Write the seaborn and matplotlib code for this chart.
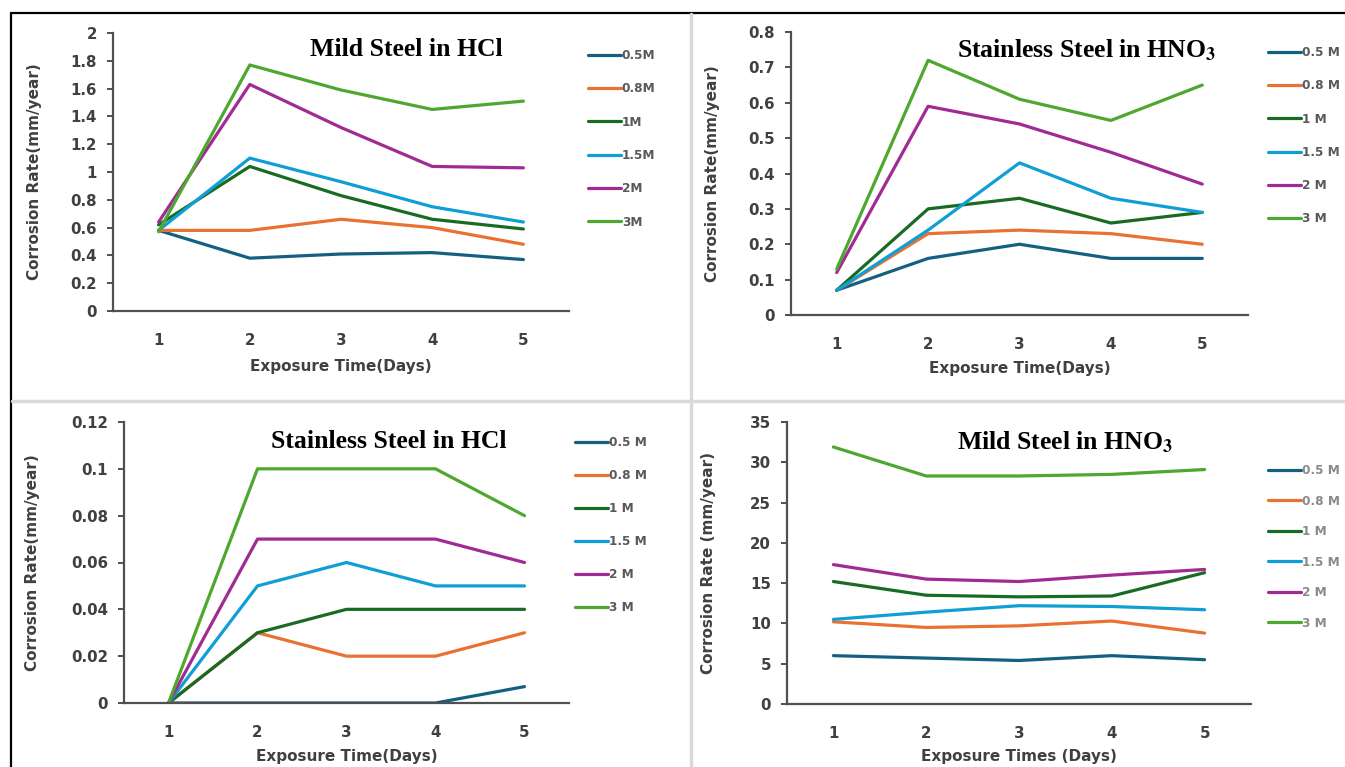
import pandas as pd
import matplotlib
matplotlib.use("Agg")
import matplotlib.pyplot as plt
import seaborn as sns
from matplotlib.lines import Line2D
from matplotlib.ticker import FuncFormatter, MultipleLocator

# === Data ===
days = [1, 2, 3, 4, 5]
conc_labels = ["0.5 M", "0.8 M", "1 M", "1.5 M", "2 M", "3 M"]
conc_labels_tl = ["0.5M", "0.8M", "1M", "1.5M", "2M", "3M"]
colors = ["#156082", "#E97132", "#196B24", "#0F9ED5", "#A02B93", "#4EA72E"]

# rows: 0.5 M, 0.8 M, 1 M, 1.5 M, 2 M, 3 M ; columns: day 1..5
mild_hcl = [
    [0.58, 0.38, 0.41, 0.42, 0.37],
    [0.58, 0.58, 0.66, 0.60, 0.48],
    [0.62, 1.04, 0.83, 0.66, 0.59],
    [0.58, 1.10, 0.93, 0.75, 0.64],
    [0.64, 1.63, 1.32, 1.04, 1.03],
    [0.57, 1.77, 1.59, 1.45, 1.51],
]
stainless_hno3 = [
    [0.07, 0.16, 0.20, 0.16, 0.16],
    [0.07, 0.23, 0.24, 0.23, 0.20],
    [0.07, 0.30, 0.33, 0.26, 0.29],
    [0.07, 0.24, 0.43, 0.33, 0.29],
    [0.12, 0.59, 0.54, 0.46, 0.37],
    [0.13, 0.72, 0.61, 0.55, 0.65],
]
stainless_hcl = [
    [0.0, 0.0, 0.0, 0.0, 0.007],
    [0.0, 0.03, 0.02, 0.02, 0.03],
    [0.0, 0.03, 0.04, 0.04, 0.04],
    [0.0, 0.05, 0.06, 0.05, 0.05],
    [0.0, 0.07, 0.07, 0.07, 0.06],
    [0.0, 0.10, 0.10, 0.10, 0.08],
]
mild_hno3 = [
    [6.0, 5.7, 5.4, 6.0, 5.5],
    [10.2, 9.5, 9.7, 10.3, 8.8],
    [15.2, 13.5, 13.3, 13.4, 16.3],
    [10.5, 11.4, 12.2, 12.1, 11.7],
    [17.3, 15.5, 15.2, 16.0, 16.7],
    [31.9, 28.3, 28.3, 28.5, 29.1],
]

# === Figure setup ===
W, H = 1345, 767
sns.set_theme(style="white")
plt.rcParams['font.family'] = ['DejaVu Sans']
plt.rcParams['mathtext.fontset'] = 'stix'

fig = plt.figure(figsize=(W / 100, H / 100), dpi=100)
fig.patch.set_facecolor("white")

AX_COL = "#505050"
TXT_COL = "#404040"


def px_box(x0, y0, x1, y1):
    return [x0 / W, 1 - y1 / H, (x1 - x0) / W, (y1 - y0) / H]


def draw_panel(box, values, labels, title, title_xy, ymax, ystep, ylabel, xlabel,
               ylabel_x, xlabel_y, legend_xy, legend_space, legend_col):
    x0, y0, x1, y1 = box
    ax = fig.add_axes(px_box(*box))
    rows = [(lab, d, v) for lab, row in zip(labels, values) for d, v in zip(days, row)]
    df = pd.DataFrame(rows, columns=["conc", "day", "rate"])
    sns.lineplot(data=df, x="day", y="rate", hue="conc", hue_order=labels,
                 palette=dict(zip(labels, colors)), linewidth=2.3,
                 estimator=None, legend=False, ax=ax)

    ax.set_xlim(0.5, 5.5)
    ax.set_ylim(0, ymax)
    ax.set_xticks(days)
    ax.yaxis.set_major_locator(MultipleLocator(ystep))
    ax.yaxis.set_major_formatter(FuncFormatter(lambda v, p: f"{round(v, 6):g}"))
    ax.grid(False)
    for s in ["top", "right"]:
        ax.spines[s].set_visible(False)
    for s in ["left", "bottom"]:
        ax.spines[s].set_color(AX_COL)
        ax.spines[s].set_linewidth(1.6)
    ax.tick_params(axis="y", direction="out", length=4.5, width=1.4, color=AX_COL,
                   pad=7, labelsize=10.8, labelcolor=TXT_COL, left=True)
    ax.tick_params(axis="x", length=0, pad=16, labelsize=10.8, labelcolor=TXT_COL)
    for t in ax.get_xticklabels() + ax.get_yticklabels():
        t.set_fontweight("bold")

    ax.set_ylabel(ylabel, fontsize=11, fontweight="bold", color=TXT_COL, va="center")
    ax.set_xlabel(xlabel, fontsize=11, fontweight="bold", color=TXT_COL, va="center")
    ax.yaxis.set_label_coords((ylabel_x - x0) / (x1 - x0), 0.5)
    ax.xaxis.set_label_coords(0.5, -(xlabel_y - y1) / (y1 - y0))

    fig.text(title_xy[0] / W, 1 - title_xy[1] / H, title, ha="center", va="center",
             family="Liberation Serif", fontweight="bold", fontsize=18.5, color="black")

    handles = [Line2D([], [], color=c, lw=2.3) for c in colors]
    leg = ax.legend(handles, labels, loc="upper left",
                    bbox_to_anchor=(legend_xy[0] / W, 1 - legend_xy[1] / H),
                    bbox_transform=fig.transFigure, frameon=False,
                    handlelength=2.7, handletextpad=0.1, labelspacing=legend_space,
                    borderaxespad=0, borderpad=0,
                    prop={"weight": "bold", "size": 8.7})
    for t in leg.get_texts():
        t.set_color(legend_col)
    return ax


draw_panel((113, 33, 569, 311), mild_hcl, conc_labels_tl, "Mild Steel in HCl", (406, 50),
           2, 0.2, "Corrosion Rate(mm/year)", "Exposure Time(Days)",
           35, 367, (588, 49), 1.68, "#595959")
draw_panel((791, 32, 1248, 315), stainless_hno3, conc_labels,
           r"Stainless Steel in HNO$_\mathbf{3}$", (1087, 50),
           0.8, 0.1, "Corrosion Rate(mm/year)", "Exposure Time(Days)",
           712, 368, (1268, 46), 1.68, "#595959")
draw_panel((124, 422, 569, 703), stainless_hcl, conc_labels, "Stainless Steel in HCl", (389, 442),
           0.12, 0.02, "Corrosion Rate(mm/year)", "Exposure Time(Days)",
           33, 757, (575, 436), 1.66, "#595959")
draw_panel((787, 422, 1251, 704), mild_hno3, conc_labels,
           r"Mild Steel in HNO$_\mathbf{3}$", (1065, 442),
           35, 5, "Corrosion Rate (mm/year)", "Exposure Times (Days)",
           709, 757, (1268, 464), 1.45, "#8a8a8a")

# === Panel frame / dividers ===
fig.add_artist(Line2D([11 / W, 1], [1 - 13 / H] * 2, transform=fig.transFigure,
                      color="black", lw=1.6))
fig.add_artist(Line2D([11 / W] * 2, [1 - 13 / H, 0], transform=fig.transFigure,
                      color="black", lw=1.6))
fig.add_artist(Line2D([691 / W] * 2, [1 - 14 / H, 0], transform=fig.transFigure,
                      color="#d9d9d9", lw=2.5))
fig.add_artist(Line2D([12 / W, 1], [1 - 401 / H] * 2, transform=fig.transFigure,
                      color="#d9d9d9", lw=2.5))

fig.savefig("out.png", dpi=100)
